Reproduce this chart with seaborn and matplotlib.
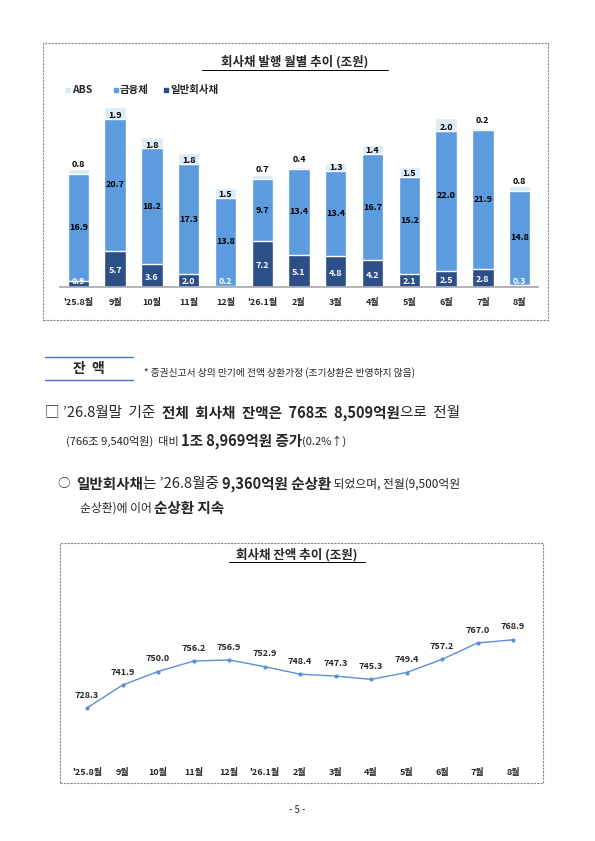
import matplotlib
matplotlib.use("Agg")
import matplotlib.pyplot as plt
import seaborn as sns
import pandas as pd
from matplotlib.patches import Rectangle
from matplotlib.lines import Line2D

sns.set_theme(style="white")
plt.rcParams['font.family'] = ['Noto Sans CJK KR', 'DejaVu Sans']

months = ["'25.8월", "9월", "10월", "11월", "12월", "'26.1월", "2월", "3월", "4월", "5월", "6월", "7월", "8월"]
general = [0.9, 5.7, 3.6, 2.0, 0.2, 7.2, 5.1, 4.8, 4.2, 2.1, 2.5, 2.8, 0.3]
financial = [16.9, 20.7, 18.2, 17.3, 13.8, 9.7, 13.4, 13.4, 16.7, 15.2, 22.0, 21.9, 14.8]
abs_vals = [0.8, 1.9, 1.8, 1.8, 1.5, 0.7, 0.4, 1.3, 1.4, 1.5, 2.0, 0.2, 0.8]
balance = [728.3, 741.9, 750.0, 756.2, 756.9, 752.9, 748.4, 747.3, 745.3, 749.4, 757.2, 767.0, 768.9]

W, H = 595, 841
fig = plt.figure(figsize=(W/100, H/100), dpi=100)
fig.patch.set_facecolor("white")
renderer = fig.canvas.get_renderer()

def fx(x): return x / W
def fy(y): return 1 - y / H
def ftext(x, y, s, **kw):
    return fig.text(fx(x), fy(y), s, **kw)

def runs(x, y, parts, gap=0):
    """parts: list of (text, fontsize, bold). Drawn consecutively."""
    for s, fs, b in parts:
        t = ftext(x, y, s, va="center", fontsize=fs, fontweight="bold" if b else "normal")
        x += t.get_window_extent(renderer).width + gap

# ---- box 1
fig.patches.append(Rectangle((fx(43), fy(320)), fx(548)-fx(43), fy(43)-fy(320),
                             transform=fig.transFigure, fill=False, ec="#888888", lw=0.8, ls=(0, (2, 1))))
ftext(295, 62, "회사채 발행 월별 추이 (조원)", ha="center", va="center", fontsize=9, fontweight="bold")
fig.lines.append(Line2D([fx(202), fx(388)], [fy(70), fy(70)], transform=fig.transFigure, color="black", lw=0.7))

c_gen, c_fin, c_abs = "#2b4f86", "#5b9bde", "#dcebf8"
df = pd.DataFrame({"month": months, "gen": general, "fin": financial, "abs": abs_vals})
df["gf"] = df["gen"] + df["fin"]
df["tot"] = df["gf"] + df["abs"]

ax = fig.add_axes([fx(60), fy(287), fx(538)-fx(60), fy(96)-fy(287)])
sns.barplot(data=df, x="month", y="tot", color=c_abs, width=0.58, ax=ax, saturation=1)
sns.barplot(data=df, x="month", y="gf", color=c_fin, width=0.58, ax=ax, saturation=1)
sns.barplot(data=df, x="month", y="gen", color=c_gen, width=0.58, ax=ax, saturation=1)
ax.set_ylim(0, 30)
ax.set_xlim(-0.5, len(months)-0.5)
for s in ["top", "right", "left"]:
    ax.spines[s].set_visible(False)
ax.spines["bottom"].set_color("#aaaaaa")
ax.set_yticks([])
ax.set_xlabel(""); ax.set_ylabel("")
ax.tick_params(axis="x", labelsize=6.5, pad=8, length=0)
for t in ax.get_xticklabels():
    t.set_fontweight("bold")
for i, r in df.iterrows():
    g = r["gen"]
    ax.text(i, max(g/2, 1.2) - 0.3 if g > 1.5 else 0.85, f"{g:.1f}", ha="center", va="center",
            fontsize=6.5, fontweight="bold", color="white")
    ax.text(i, g + r["fin"]/2 + (0.8 if i in (9, 10) else 0), f"{r['fin']:.1f}", ha="center", va="center",
            fontsize=6.5, fontweight="bold", color="black")
    ax.text(i, r["gf"] + 0.5 + (1.0 if r["abs"] < 1 else 0), f"{r['abs']:.1f}", ha="center", va="center",
            fontsize=6.5, fontweight="bold", color="black")
for x0, col, lab in [(66, c_abs, "ABS"), (114, c_fin, "금융체"), (164, c_gen, "일반회사채")]:
    fig.patches.append(Rectangle((fx(x0), fy(92)), fx(4), fy(88)-fy(92), transform=fig.transFigure, color=col))
    ftext(x0+6, 90, lab, va="center", fontsize=7.5, fontweight="bold")

# ---- middle text
fig.lines.append(Line2D([fx(45), fx(133)], [fy(357), fy(357)], transform=fig.transFigure, color="#4a6fcf", lw=1))
fig.lines.append(Line2D([fx(45), fx(133)], [fy(380), fy(380)], transform=fig.transFigure, color="#4a6fcf", lw=1))
ftext(89, 369, "잔  액", ha="center", va="center", fontsize=10, fontweight="bold")
ftext(144, 373, "* 증권신고서 상의 만기에 전액 상환가정 (조기상환은 반영하지 않음)", va="center", fontsize=7)
runs(45, 413, [("□ ’26.8월말  기준  ", 10.5, False), ("전체  회사채  잔액은  768조  8,509억원", 10.5, True),
               ("으로  전월", 10.5, False)])
runs(66, 441, [("(766조 9,540억원)  대비 ", 8, False), ("1조 8,969억원 증가", 10.5, True),
               ("(0.2%↑)", 8, False)])
runs(58, 484, [("○  ", 9, False), ("일반회사채", 10.5, True), ("는 ’26.8월중 ", 10.5, False),
               ("9,360억원 순상환", 10.5, True), (" 되었으며, 전월(9,500억원", 8.5, False)])
runs(80, 508, [("순상환)에 이어 ", 8.5, False), ("순상환 지속", 10.5, True)])

# ---- box 2
fig.patches.append(Rectangle((fx(60), fy(783)), fx(543)-fx(60), fy(543)-fy(783),
                             transform=fig.transFigure, fill=False, ec="#888888", lw=0.8, ls=(0, (2, 1))))
ftext(297, 555, "회사채 잔액 추이 (조원)", ha="center", va="center", fontsize=9, fontweight="bold")
fig.lines.append(Line2D([fx(229), fx(365)], [fy(562), fy(562)], transform=fig.transFigure, color="black", lw=0.7))

sp = (513-87)/12
ax2 = fig.add_axes([fx(87 - sp/2), fy(755.4), fx(13*sp), fy(596)-fy(755.4)])
dfl = pd.DataFrame({"month": months, "bal": balance})
sns.lineplot(data=dfl, x="month", y="bal", ax=ax2, color="#5b8fd6", lw=1, marker="o",
             markersize=3, markeredgewidth=0, sort=False)
ax2.set_xlim(-0.5, 12.5)
ax2.set_ylim(700, 795)
for s in ax2.spines.values():
    s.set_visible(False)
ax2.set_yticks([])
ax2.set_xlabel(""); ax2.set_ylabel("")
ax2.tick_params(axis="x", labelsize=6.5, pad=9, length=0)
for t in ax2.get_xticklabels():
    t.set_fontweight("bold")
for i, v in enumerate(balance):
    ax2.text(i, v + 5, f"{v:.1f}", ha="center", va="bottom", fontsize=6.5, fontweight="bold")

ftext(297, 810, "- 5 -", ha="center", va="center", fontsize=7)

fig.savefig("out.png", dpi=100)
